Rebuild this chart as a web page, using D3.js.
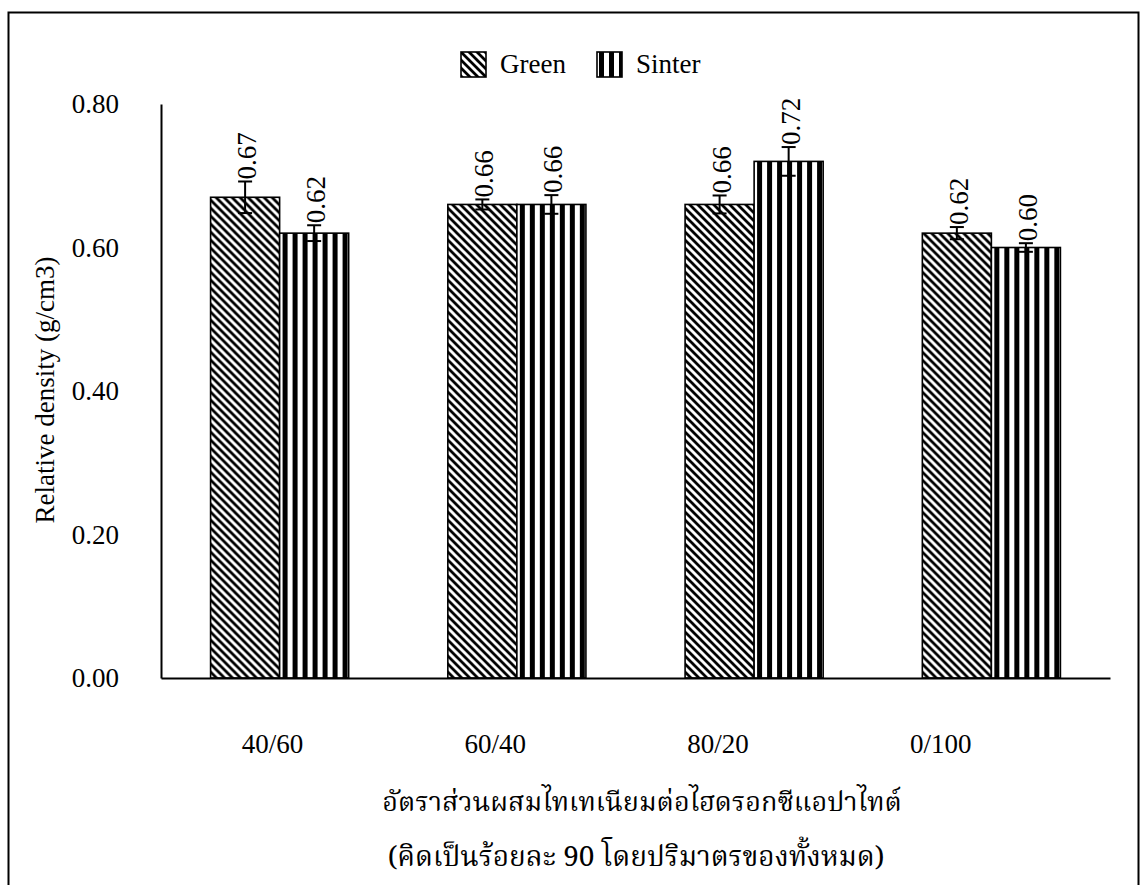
<!DOCTYPE html>
<html>
<head>
<meta charset="utf-8">
<script src="https://cdn.jsdelivr.net/npm/d3@7"></script>
<style>
  html, body { margin: 0; padding: 0; background: #fff; }
  svg { display: block; }
</style>
</head>
<body>
<svg id="chart" width="1140" height="885"></svg>
<script>
// Mixing ratios (titanium / hydroxyapatite)
const categories = ["40/60", "60/40", "80/20", "0/100"];
const seriesNames = ["Green", "Sinter"];
const greenValues = [0.67, 0.66, 0.66, 0.62];
const sinterValues = [0.62, 0.66, 0.72, 0.60];
const greenErrors = [0.022, 0.007, 0.0125, 0.0085];
const sinterErrors = [0.011, 0.013, 0.02, 0.006];
const yTicks = [0, 0.2, 0.4, 0.6, 0.8];

const SERIF = "'Liberation Serif', serif";
const THAI = "'Noto Serif Thai', 'Liberation Serif', serif";

const svg = d3.select("#chart").style("font-family", SERIF);
const plot = { left: 161, right: 1110, top: 104, bottom: 678 };
const FONT = 27;

// Outer frame
svg.append("rect")
  .attr("x", 8.5).attr("y", 12.5)
  .attr("width", 1130).attr("height", 900)
  .attr("fill", "none").attr("stroke", "#000").attr("stroke-width", 2);

// Fill patterns
const defs = svg.append("defs");
const diag = defs.append("pattern")
  .attr("id", "pat-green").attr("patternUnits", "userSpaceOnUse")
  .attr("width", 8).attr("height", 8);
diag.append("rect").attr("width", 8).attr("height", 8).attr("fill", "#fff");
diag.append("path")
  .attr("d", "M-1,-1 L9,9 M-5,3 L1,9 M3,-5 L9,1 M-1,7 L1,9 M7,-1 L9,1")
  .attr("stroke", "#000").attr("stroke-width", 2.8).attr("fill", "none");

const vert = defs.append("pattern")
  .attr("id", "pat-sinter").attr("patternUnits", "userSpaceOnUse")
  .attr("width", 10).attr("height", 10);
vert.append("rect").attr("width", 10).attr("height", 10).attr("fill", "#fff");
vert.append("rect").attr("x", 2).attr("width", 5).attr("height", 10).attr("fill", "#000");

const fills = { Green: "url(#pat-green)", Sinter: "url(#pat-sinter)" };

// Scales
const x0 = d3.scaleBand().domain(categories).range([plot.left, plot.right]).paddingInner(0.418).paddingOuter(0.209);
const x1 = d3.scaleBand().domain(seriesNames).range([0, x0.bandwidth()]).padding(0);
const xLabel = d3.scaleBand().domain(categories).range([plot.left, 1052]);
const y = d3.scaleLinear().domain([0, 0.8]).range([plot.bottom, plot.top]);

// Rows of data
const rows = categories.map((c, i) => ({
  cat: c,
  items: [
    { series: "Green", value: greenValues[i], err: greenErrors[i] },
    { series: "Sinter", value: sinterValues[i], err: sinterErrors[i] }
  ]
}));

// Y axis
const yAxis = d3.axisLeft(y).tickValues(yTicks).tickFormat(d3.format(".2f")).tickSize(0).tickPadding(42);
const gy = svg.append("g").attr("transform", `translate(${plot.left},0)`).call(yAxis);
gy.attr("font-family", null).attr("font-size", null);
gy.select(".domain").attr("stroke", "#000").attr("stroke-width", 2);
gy.selectAll("text").style("font-family", SERIF).style("font-size", FONT + "px").attr("fill", "#000");

// Bars
const groups = svg.append("g").selectAll("g").data(rows).join("g")
  .attr("transform", d => `translate(${x0(d.cat)},0)`);

groups.selectAll("rect").data(d => d.items).join("rect")
  .attr("x", d => x1(d.series))
  .attr("y", d => y(d.value))
  .attr("width", x1.bandwidth())
  .attr("height", d => y(0) - y(d.value))
  .attr("fill", d => fills[d.series])
  .attr("stroke", "#000").attr("stroke-width", 1.6);

// Error bars
const cap = 7;
const cx = d => x1(d.series) + x1.bandwidth() / 2;
const eb = groups.selectAll("g.err").data(d => d.items).join("g").attr("class", "err");
eb.append("line")
  .attr("x1", cx).attr("x2", cx)
  .attr("y1", d => y(d.value + d.err)).attr("y2", d => y(d.value - d.err))
  .attr("stroke", "#000").attr("stroke-width", 2);
eb.append("line")
  .attr("x1", d => cx(d) - cap).attr("x2", d => cx(d) + cap)
  .attr("y1", d => y(d.value + d.err)).attr("y2", d => y(d.value + d.err))
  .attr("stroke", "#000").attr("stroke-width", 2);
eb.append("line")
  .attr("x1", d => cx(d) - cap).attr("x2", d => cx(d) + cap)
  .attr("y1", d => y(d.value - d.err)).attr("y2", d => y(d.value - d.err))
  .attr("stroke", "#000").attr("stroke-width", 2);

// Value labels, rotated
groups.selectAll("text.val").data(d => d.items).join("text")
  .attr("class", "val")
  .attr("transform", d => `translate(${cx(d) + 11},${y(d.value + d.err) - 2}) rotate(-90)`)
  .attr("text-anchor", "start")
  .style("font-family", SERIF).style("font-size", FONT + "px")
  .text(d => d3.format(".2f")(d.value));

// X axis line
const xAxis = d3.axisBottom(x0).tickSize(0).tickFormat("");
const gx = svg.append("g").attr("transform", `translate(0,${plot.bottom})`).call(xAxis);
gx.select(".domain").attr("stroke", "#000").attr("stroke-width", 2);

// Category labels
const xLab = d3.axisBottom(xLabel).tickSize(0).tickPadding(56);
const gl = svg.append("g").attr("transform", `translate(0,${plot.bottom})`).call(xLab);
gl.select(".domain").remove();
gl.selectAll("text").style("font-family", SERIF).style("font-size", FONT + "px").attr("fill", "#000");

// Axis titles
svg.append("text")
  .attr("transform", `translate(54,390) rotate(-90)`)
  .attr("text-anchor", "middle")
  .style("font-family", SERIF).style("font-size", FONT + "px")
  .text("Relative density (g/cm3)");

svg.append("text")
  .attr("x", 642).attr("y", 811).attr("text-anchor", "middle")
  .style("font-family", THAI).style("font-size", "27px")
  .text("อัตราส่วนผสมไทเทเนียมต่อไฮดรอกซีแอปาไทต์");
svg.append("text")
  .attr("x", 636).attr("y", 866).attr("text-anchor", "middle")
  .style("font-family", THAI).style("font-size", "28px")
  .text("(คิดเป็นร้อยละ 90 โดยปริมาตรของทั้งหมด)");

// Legend
const legend = svg.append("g").selectAll("g").data(seriesNames).join("g")
  .attr("transform", (d, i) => `translate(${[461, 597][i]},52)`);
legend.append("rect")
  .attr("width", 25).attr("height", 25)
  .attr("fill", d => fills[d]).attr("stroke", "#000").attr("stroke-width", 1.6);
legend.append("text")
  .attr("x", 39).attr("y", 21)
  .style("font-family", SERIF).style("font-size", FONT + "px")
  .text(d => d);
</script>
</body>
</html>
